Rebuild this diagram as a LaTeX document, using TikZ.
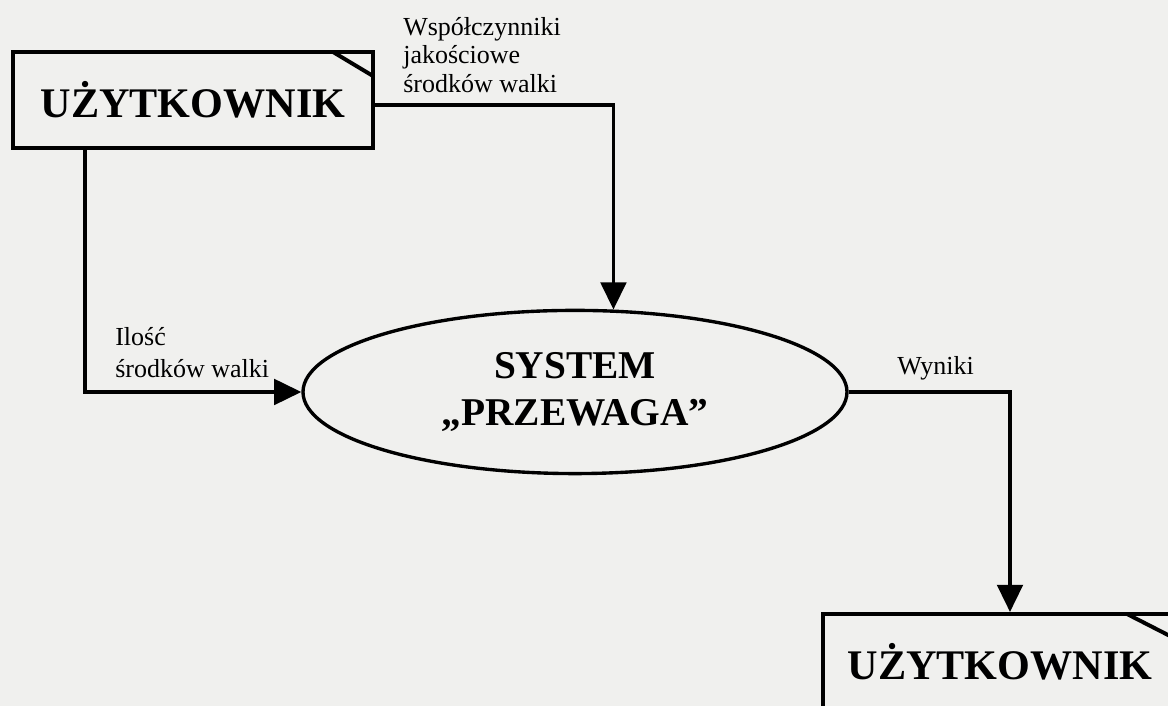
\documentclass[tikz,border=0pt]{standalone}
\usepackage{fontspec}
\setmainfont{Liberation Serif}
\usetikzlibrary{shapes.geometric,arrows.meta}
\definecolor{paper}{RGB}{240,240,238}
\tikzset{
    user/.style={draw,line width=2.8pt,minimum width=9cm,minimum height=2.4cm,inner sep=0pt,
        outer sep=0pt,font=\fontsize{30}{34}\selectfont\bfseries},
    sysnode/.style={ellipse,draw,line width=2.4pt,minimum width=13.6cm,minimum height=4.08cm,
        inner sep=0pt,align=center,font=\fontsize{28}{33.3}\selectfont\bfseries},
    flow/.style={line width=2.4pt,-{Triangle[length=0.68cm,width=0.64cm]}},
    lbl/.style={align=left,inner sep=0pt,font=\fontsize{18.5}{20.3}\selectfont}
}
\begin{document}
\begin{tikzpicture}
        \useasboundingbox (0,0) rectangle (29.2,17.65);
        \clip (0,0) rectangle (29.2,17.65);
        \fill[paper] (0,0) rectangle (29.2,17.65);
        \node[user] (user1) at (4.825,15.15) {UŻYTKOWNIK};
        \draw[line width=2.8pt] ([xshift=-1cm]user1.north east) -- ([yshift=-0.6cm]user1.north east);
        \node[sysnode] (sys) at (14.375,7.85) {SYSTEM\\„PRZEWAGA”};
        \node[user,minimum width=8.85cm] (user2) at (25.0,1.1) {UŻYTKOWNIK};
        \draw[line width=2.8pt] ([xshift=-1.25cm]user2.north east) -- ([yshift=-0.64cm]user2.north east);
        \draw[flow] ([yshift=-0.125cm]user1.east) -| (sys.65.4);
        \draw[flow] ([xshift=1.8cm]user1.south west) |- (sys.west);
        \draw[flow] (sys.east) -| ([yshift=0.05cm,xshift=0.25cm]user2.north);
        \node[lbl,anchor=north west] (coef) at (10.075,17.23) {Współczynniki\\jakościowe\\środków walki};
        \node[lbl,anchor=north west,font=\fontsize{18.5}{22.8}\selectfont] (qty) at (2.875,9.48) {Ilość\\środków walki};
        \node[lbl,anchor=base west] (res) at (22.425,8.275) {Wyniki};
    \end{tikzpicture}
\end{document}
